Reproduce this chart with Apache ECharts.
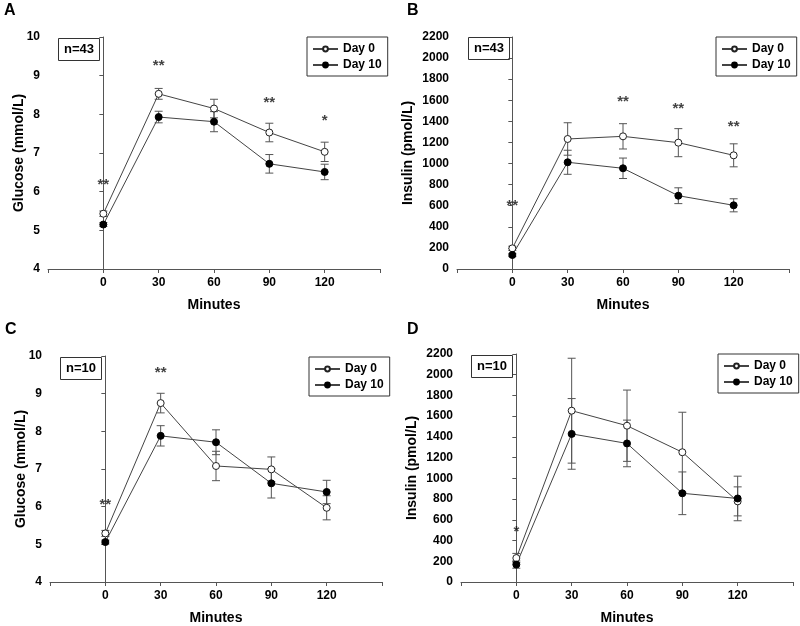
<!DOCTYPE html>
<html><head><meta charset="utf-8">
<script src="https://cdn.jsdelivr.net/npm/echarts@6/dist/echarts.min.js"></script>
<style>html,body{margin:0;padding:0;background:#fff}#c{width:800px;height:626px}</style>
</head><body><div id="c"></div>
<script>
const minutes = [0, 30, 60, 90, 120];
const xTickLabels = ['0', '30', '60', '90', '120'];
const seriesNames = ['Day 0', 'Day 10'];
// Panel A: glucose, n=43
const glu43Day0 = [5.43, 8.53, 8.15, 7.53, 7.03];
const glu43Day0Err = [0.07, 0.14, 0.24, 0.24, 0.25];
const glu43Day10 = [5.15, 7.93, 7.81, 6.72, 6.51];
const glu43Day10Err = [0.05, 0.15, 0.26, 0.24, 0.2];
// Panel B: insulin, n=43
const ins43Day0 = [196, 1233, 1258, 1198, 1078];
const ins43Day0Err = [20, 154, 120, 133, 109];
const ins43Day10 = [133, 1012, 955, 695, 604];
const ins43Day10Err = [15, 114, 97, 75, 62];
// Panel C: glucose, n=10
const glu10Day0 = [5.29, 8.75, 7.08, 6.99, 5.97];
const glu10Day0Err = [0.08, 0.26, 0.39, 0.33, 0.32];
const glu10Day10 = [5.06, 7.88, 7.71, 6.62, 6.39];
const glu10Day10Err = [0.05, 0.27, 0.33, 0.39, 0.31];
// Panel D: insulin, n=10
const ins10Day0 = [231, 1653, 1508, 1252, 778];
const ins10Day0Err = [45, 506, 344, 386, 140];
const ins10Day10 = [168, 1429, 1337, 856, 806];
const ins10Day10Err = [35, 341, 225, 206, 215];
// significance markers [minute, y, text]
const starsA = [[0, 6.26, '**'], [30, 9.32, '**'], [90, 8.37, '**'], [120, 7.9, '*']];
const starsB = [[0, 623, '**'], [60, 1612, '**'], [90, 1546, '**'], [120, 1372, '**']];
const starsC = [[0, 6.13, '**'], [30, 9.62, '**']];
const starsD = [[0, 515, '*']];
const panelLetters = ['A', 'B', 'C', 'D'];
const nLabels = ['n=43', 'n=43', 'n=10', 'n=10'];
const yTitles = ['Glucose (mmol/L)', 'Insulin (pmol/L)', 'Glucose (mmol/L)', 'Insulin (pmol/L)'];
const xTitle = 'Minutes';

const FONT = '"Liberation Sans", Arial, sans-serif';
const AX = '#555';

const panels = [
  {d0: glu43Day0, e0: glu43Day0Err, d10: glu43Day10, e10: glu43Day10Err, stars: starsA, ymin: 4, ymax: 10, yint: 1,
   grid: {left: 48, top: 37, width: 332, height: 232}, nbox: [58, 38], legend: [307, 37], letter: [4, 3]},
  {d0: ins43Day0, e0: ins43Day0Err, d10: ins43Day10, e10: ins43Day10Err, stars: starsB, ymin: 0, ymax: 2200, yint: 200,
   grid: {left: 457, top: 37, width: 332, height: 232}, nbox: [468, 37], legend: [716, 37], letter: [407, 3]},
  {d0: glu10Day0, e0: glu10Day0Err, d10: glu10Day10, e10: glu10Day10Err, stars: starsC, ymin: 4, ymax: 10, yint: 1,
   grid: {left: 50, top: 356, width: 332, height: 231}, nbox: [60, 357], legend: [309, 357], letter: [5, 322]},
  {d0: ins10Day0, e0: ins10Day0Err, d10: ins10Day10, e10: ins10Day10Err, stars: starsD, ymin: 0, ymax: 2200, yint: 200,
   grid: {left: 461, top: 354, width: 332, height: 232}, nbox: [471, 355], legend: [718, 354], letter: [407, 322]}
];

function errRender(params, api) {
  const x = api.value(0), lo = api.value(1), hi = api.value(2);
  const a = api.coord([x, lo]), b = api.coord([x, hi]);
  const w = 4;
  const st = {stroke: '#555', lineWidth: 1};
  return {type: 'group', children: [
    {type: 'line', shape: {x1: a[0], y1: a[1], x2: b[0], y2: b[1]}, style: st},
    {type: 'line', shape: {x1: a[0] - w, y1: a[1], x2: a[0] + w, y2: a[1]}, style: st},
    {type: 'line', shape: {x1: b[0] - w, y1: b[1], x2: b[0] + w, y2: b[1]}, style: st}
  ]};
}

const grid = [], xAxis = [], yAxis = [], series = [], legend = [], title = [];
panels.forEach((p, i) => {
  grid.push(p.grid);
  xAxis.push({type: 'value', gridIndex: i, min: -30, max: 150, interval: 30,
    axisLine: {lineStyle: {color: AX, width: 1}}, axisTick: {inside: false, length: 4, lineStyle: {color: AX}},
    splitLine: {show: false},
    axisLabel: {color: '#000', fontFamily: FONT, fontWeight: 'bold', fontSize: 12, margin: 8,
      formatter: v => { const k = minutes.indexOf(v); return k >= 0 ? xTickLabels[k] : ''; }},
    name: xTitle, nameLocation: 'middle', nameGap: 29, nameMoveOverlap: false,
    nameTextStyle: {color: '#000', fontFamily: FONT, fontWeight: 'bold', fontSize: 14}});
  yAxis.push({type: 'value', gridIndex: i, min: p.ymin, max: p.ymax, interval: p.yint,
    axisLine: {show: true, lineStyle: {color: AX, width: 1}},
    axisTick: {show: true, inside: false, length: 4, lineStyle: {color: AX}},
    splitLine: {show: false},
    axisLabel: {color: '#000', fontFamily: FONT, fontWeight: 'bold', fontSize: 12, margin: 8,
      formatter: v => String(v)},
    name: yTitles[i], nameLocation: 'middle', nameRotate: 90, nameGap: i % 2 ? 42 : 22, nameMoveOverlap: false,
    nameTextStyle: {color: '#000', fontFamily: FONT, fontWeight: 'bold', fontSize: 14}});
  const mk = (vals, errs) => minutes.map((m, k) => [m, vals[k] - errs[k], vals[k] + errs[k]]);
  series.push({type: 'custom', name: 'err0_' + i, xAxisIndex: i, yAxisIndex: i, renderItem: errRender,
    encode: {x: 0, y: [1, 2]}, data: mk(p.d0, p.e0), z: 1, silent: true});
  series.push({type: 'custom', name: 'err10_' + i, xAxisIndex: i, yAxisIndex: i, renderItem: errRender,
    encode: {x: 0, y: [1, 2]}, data: mk(p.d10, p.e10), z: 1, silent: true});
  series.push({type: 'line', name: seriesNames[0], xAxisIndex: i, yAxisIndex: i,
    data: minutes.map((m, k) => [m, p.d0[k]]), symbol: 'circle', symbolSize: 7, showAllSymbol: true,
    lineStyle: {color: '#444', width: 1}, itemStyle: {color: '#fff', borderColor: '#222', borderWidth: 1}, z: 3, animation: false});
  series.push({type: 'line', name: seriesNames[1], xAxisIndex: i, yAxisIndex: i,
    data: minutes.map((m, k) => [m, p.d10[k]]), symbol: 'circle', symbolSize: 7, showAllSymbol: true,
    lineStyle: {color: '#444', width: 1}, itemStyle: {color: '#000', borderColor: '#000', borderWidth: 1}, z: 3, animation: false});
  series.push({type: 'scatter', name: 'stars_' + i, xAxisIndex: i, yAxisIndex: i, symbolSize: 0,
    data: p.stars, silent: true,
    label: {show: true, position: 'inside', offset: [0, 3], formatter: q => q.data[2],
      color: '#111', fontFamily: FONT, fontWeight: 'bold', fontSize: 15}});
  legend.push({data: seriesNames, left: p.legend[0], top: p.legend[1], orient: 'vertical',
    borderColor: '#333', borderWidth: 1, borderRadius: 0, padding: [6, 6, 5, 5], itemGap: 4,
    itemWidth: 25, itemHeight: 6, selectedMode: false,
    textStyle: {color: '#000', fontFamily: FONT, fontWeight: 'bold', fontSize: 12}});
  title.push({text: nLabels[i], left: p.nbox[0], top: p.nbox[1], borderColor: '#333', borderWidth: 1,
    padding: [5, 6, 5, 6], textStyle: {color: '#000', fontFamily: FONT, fontWeight: 'bold', fontSize: 13}});
  title.push({text: panelLetters[i], left: p.letter[0], top: p.letter[1], padding: 0,
    textStyle: {color: '#000', fontFamily: FONT, fontWeight: 'bold', fontSize: 16}});
});

const chart = echarts.init(document.getElementById('c'), null, {renderer: 'canvas'});
chart.setOption({animation: false, backgroundColor: '#fff', title, grid, xAxis, yAxis, legend, series});
</script></body></html>
